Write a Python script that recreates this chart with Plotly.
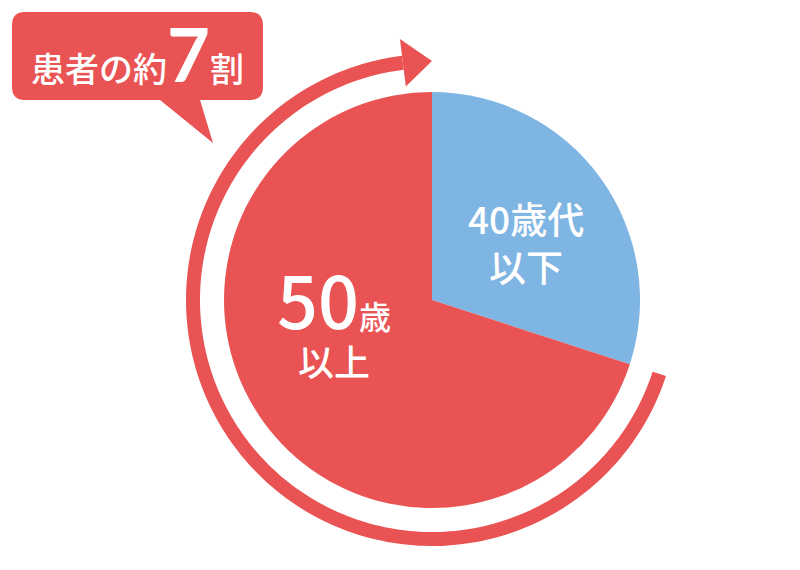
import numpy as np
import plotly.graph_objects as go

# ---- data ----
labels = ["40歳代以下", "50歳以上"]
values = [30, 70]
colors = ["#7FB5E3", "#E95353"]
callout_parts = ["患者の約", "7", "割"]

RED = "#E95353"
W, H = 800, 570
OFF = 8  # page body margin: figure starts at screen pixel (8, 8)
CX, CY, R = 432, 300, 208  # screen pixels
FONT = "Noto Sans CJK JP"

share_blue = values[0] / sum(values)

fig = go.Figure()
fig.add_trace(go.Pie(
    labels=labels, values=values, sort=False, direction="clockwise", rotation=0,
    marker=dict(colors=colors, line=dict(width=0)), textinfo="none",
    hoverinfo="label+percent", showlegend=False,
    domain=dict(x=[(CX - OFF - R) / W, (CX - OFF + R) / W],
                y=[(H - (CY - OFF) - R) / H, (H - (CY - OFF) + R) / H]),
))


def pt(theta_deg, r):
    t = np.radians(theta_deg)
    return CX + r * np.sin(t), CY - r * np.cos(t)


# ring arrow, starting at the boundary of the blue slice, going clockwise to the top
r_in, r_out = 232, 246
th0 = 360 * share_blue
th1 = 353
ths = np.linspace(th0, th1, 200)
outer = [pt(t, r_out) for t in ths]
inner = [pt(t, r_in) for t in ths[::-1]]
poly = outer + inner
path = "M " + " L ".join(f"{x:.2f},{y:.2f}" for x, y in poly) + " Z"
fig.add_shape(type="path", path=path, xref="x", yref="y", fillcolor=RED, line=dict(width=0), layer="above")

# arrow head
rm = (r_in + r_out) / 2
b1 = pt(th1, rm - 24)
b2 = pt(th1, rm + 24)
tip = pt(360, rm)
fig.add_shape(type="path",
              path=f"M {b1[0]:.2f},{b1[1]:.2f} L {b2[0]:.2f},{b2[1]:.2f} L {tip[0]:.2f},{tip[1]:.2f} Z",
              xref="x", yref="y", fillcolor=RED, line=dict(width=0), layer="above")

# callout bubble
x0, y0, x1, y1, rc = 12, 12, 263, 100, 13
bubble = (f"M {x0+rc},{y0} L {x1-rc},{y0} Q {x1},{y0} {x1},{y0+rc} L {x1},{y1-rc} Q {x1},{y1} {x1-rc},{y1} "
          f"L 200,{y1} L 213,143 L 160,{y1} "
          f"L {x0+rc},{y1} Q {x0},{y1} {x0},{y1-rc} L {x0},{y0+rc} Q {x0},{y0} {x0+rc},{y0} Z")
fig.add_shape(type="path", path=bubble, xref="x", yref="y", fillcolor=RED, line=dict(width=0), layer="above")


def ann(x, y, text, size, xanchor="center", weight="normal"):
    fig.add_annotation(x=x, y=y, xref="x", yref="y", text=text, showarrow=False,
                       xanchor=xanchor, yanchor="middle", align="center",
                       font=dict(family=FONT, size=size, color="white", weight=weight))


ann(29, 53,
    f"{callout_parts[0]}<span style='font-family:Lato;font-size:74px;font-weight:bold'>{callout_parts[1]}</span>"
    f"{callout_parts[2]}", 34, xanchor="left", weight=500)

# slice labels
ann(526, 242, "40歳代<br>以下", 37, weight=500)
ann(334, 315,
    "<span style='font-size:72px'>50</span><span style='font-size:32px'>歳</span><br>"
    "<span style='font-size:36px'>以上</span>", 36, weight=500)

fig.update_layout(
    width=W, height=H, margin=dict(l=0, r=0, t=0, b=0),
    paper_bgcolor="white", plot_bgcolor="white",
    xaxis=dict(range=[OFF, W + OFF], visible=False, fixedrange=True),
    yaxis=dict(range=[H + OFF, OFF], visible=False, fixedrange=True),
)
fig.write_html("out.html")
